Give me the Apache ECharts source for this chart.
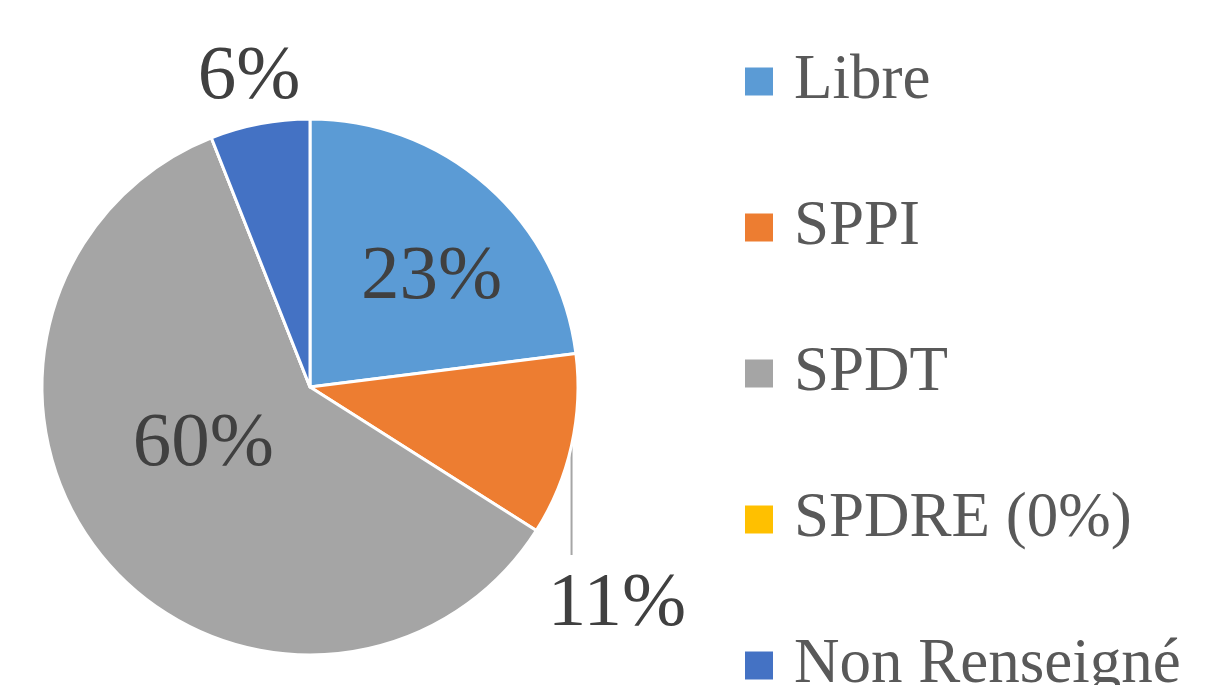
<!DOCTYPE html>
<html>
<head>
<meta charset="utf-8">
<script src="https://cdn.jsdelivr.net/npm/echarts@6/dist/echarts.min.js"></script>
<style>
  html, body { margin: 0; padding: 0; background: #fff; }
  #container { width: 1209px; height: 685px; }
</style>
</head>
<body>
<div id="container"></div>
<script>
// categories and values
const categories = ['Libre', 'SPPI', 'SPDT', 'SPDRE (0%)', 'Non Renseigné']
const values = [23, 11, 60, 0, 6]
const colors = ['#5B9BD5', '#ED7D31', '#A5A5A5', '#FFC000', '#4472C4']

const font = 'Liberation Serif'

const pieData = categories.map((name, i) => {
  const item = { name: name, value: values[i], itemStyle: { color: colors[i] } }
  if (values[i] === 0) {
    item.label = { show: false }
    item.labelLine = { show: false }
  }
  return item
})
// inside labels, nudged to where they sit in the picture
pieData[0].label = { position: 'inside', offset: [31, -6] }
pieData[2].label = { position: 'inside', offset: [-1, -30] }
// outside labels
pieData[1].labelLine = { show: true }
pieData[4].labelLine = { show: false }

const option = {
  animation: false,
  backgroundColor: '#fff',
  legend: {
    orient: 'vertical',
    left: 743,
    top: 50,
    height: 900,
    padding: 0,
    icon: 'rect',
    itemWidth: 30,
    itemHeight: 30,
    itemGap: 83,
    selectedMode: false,
    data: categories,
    textStyle: {
      fontFamily: font,
      fontSize: 63,
      lineHeight: 60,
      color: '#595959',
      padding: [0, 0, 0, 15]
    }
  },
  series: [
    {
      type: 'pie',
      center: [310, 387],
      radius: 268,
      startAngle: 90,
      clockwise: true,
      avoidLabelOverlap: false,
      itemStyle: {
        borderColor: '#fff',
        borderWidth: 3
      },
      label: {
        show: true,
        position: 'outside',
        formatter: p => p.value + '%',
        fontFamily: font,
        fontSize: 77,
        color: '#404040'
      },
      labelLine: {
        show: true,
        lineStyle: { color: '#A6A6A6', width: 2 }
      },
      labelLayout: function (params) {
        if (params.dataIndex === 1) {
          // straight leader line down from the slice edge to above the label
          const p0 = params.labelLinePoints ? params.labelLinePoints[0] : [572, 447]
          const end = [p0[0], 555]
          return {
            x: 617, y: 605, align: 'center', verticalAlign: 'middle',
            labelLinePoints: [p0, end, end]
          }
        }
        if (params.dataIndex === 4) {
          return { x: 249, y: 78, align: 'center', verticalAlign: 'middle' }
        }
      },
      data: pieData
    }
  ]
}

const myChart = echarts.init(document.getElementById('container'))
myChart.setOption(option)
</script>
</body>
</html>
